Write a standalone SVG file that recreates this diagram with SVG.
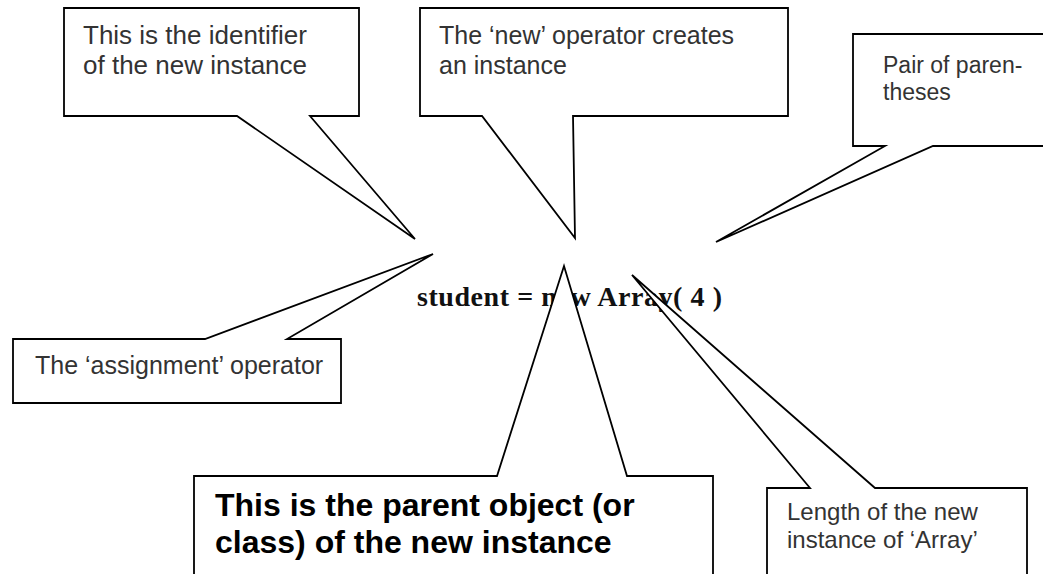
<svg xmlns="http://www.w3.org/2000/svg" width="1043" height="574" viewBox="0 0 1043 574">
<style>
.co{fill:#fff;stroke:#000;stroke-width:1.8;stroke-linejoin:miter}
.t{font-family:"Liberation Sans",Arial,sans-serif;fill:#333}
.b{font-family:"Liberation Sans",Arial,sans-serif;font-weight:bold;fill:#000;font-size:32px}
.code{font-family:"Liberation Serif","Times New Roman",serif;font-weight:bold;fill:#111;font-size:28px}
</style>
<rect width="1043" height="574" fill="#fff"/>
<g id="code-line">
<text class="code" x="417" y="306" textLength="305" lengthAdjust="spacing">student = new Array( 4 )</text>
</g>
<g id="connectors"></g>
<g id="callout-identifier">
<path class="co" d="M64,8 H359 V116 H310 L415,239 L237,116 H64 Z"/>
<text class="t" font-size="26" x="83" y="44">This is the identifier</text>
<text class="t" font-size="26" x="83" y="74">of the new instance</text>
</g>
<g id="callout-new">
<path class="co" d="M420,8 H788 V116 H573 L575,238 L482,116 H420 Z"/>
<text class="t" font-size="25" x="439" y="44">The ‘new’ operator creates</text>
<text class="t" font-size="25" x="439" y="74">an instance</text>
</g>
<g id="callout-parentheses">
<path class="co" d="M853,34 H1050 V146 H933 L716,242 L885,146 H853 Z"/>
<text class="t" font-size="23" x="883" y="73">Pair of paren-</text>
<text class="t" font-size="23" x="883" y="100">theses</text>
</g>
<g id="callout-assignment">
<path class="co" d="M13,339 H205 L433,254 L287,339 H341 V403 H13 Z"/>
<text class="t" font-size="25" x="35" y="374">The ‘assignment’ operator</text>
</g>
<g id="callout-parent">
<path class="co" d="M194,476 H497 L564,266 L627,476 H713 V590 H194 Z"/>
<text class="b" x="215" y="516">This is the parent object (or</text>
<text class="b" x="215" y="553">class) of the new instance</text>
</g>
<g id="callout-length">
<path class="co" d="M767,488 H810 L632,275 L875,488 H1027 V590 H767 Z"/>
<text class="t" font-size="24" x="787" y="520">Length of the new</text>
<text class="t" font-size="24" x="787" y="548">instance of ‘Array’</text>
</g>
</svg>
